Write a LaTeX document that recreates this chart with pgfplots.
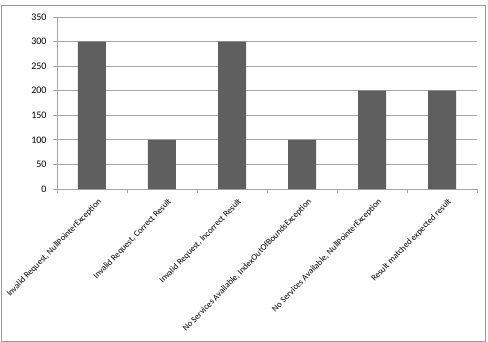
\documentclass[border=0pt]{standalone}
\usepackage{pgfplots}
\pgfplotsset{compat=1.18}
\usepackage{fontspec}
\setmainfont{Carlito}
\definecolor{barc}{HTML}{5F5F5F}
\definecolor{gridc}{HTML}{A6A6A6}
\definecolor{framec}{HTML}{9A9A9A}
\begin{document}
\begin{tikzpicture}
\useasboundingbox (-57bp,-153bp) rectangle (431bp,189bp);
\draw[framec, line width=0.8bp] (-56bp,-152bp) rectangle (428bp,184bp);
\begin{axis}[
  at={(0,0)}, anchor=south west,
  scale only axis,
  width=420bp, height=172bp,
  xmin=-0.5, xmax=5.5,
  ymin=0, ymax=350,
  ytick={0,50,...,350},
  xtick={0,...,5},
  xticklabels={{Invalid Request, NullPointerException},{Invalid Request, Correct Result},{Invalid Request, Incorrect Result},{No Services Available, IndexOutOfBoundsException},{No Services Available, NullPointerException},{Result matched expected result}},
  minor xtick={-0.5,0.5,...,5.5},
  major x tick style={draw=none},
  minor x tick style={draw=gridc, line width=0.8bp},
  major y tick style={draw=gridc, line width=0.8bp},
  tick align=outside,
  major tick length=4bp,
  minor tick length=4bp,
  axis x line*=bottom,
  axis y line*=left,
  axis line style={draw=gridc, line width=0.8bp, -},
  ymajorgrids,
  grid style={draw=gridc, line width=0.8bp},
  /pgf/number format/assume math mode=true,
  yticklabel style={font=\fontsize{10bp}{12bp}\selectfont, xshift=-3bp},
  xticklabel style={font=\fontsize{8.7bp}{10.5bp}\selectfont, rotate=46, anchor=north east, inner sep=1bp, yshift=-6bp, xshift=1.5bp},
  ybar, bar width=28bp,
  clip=false,
]
\addplot[fill=barc, draw=none] coordinates {(0,300) (1,100) (2,300) (3,100) (4,200) (5,200)};
\end{axis}
\end{tikzpicture}
\end{document}
